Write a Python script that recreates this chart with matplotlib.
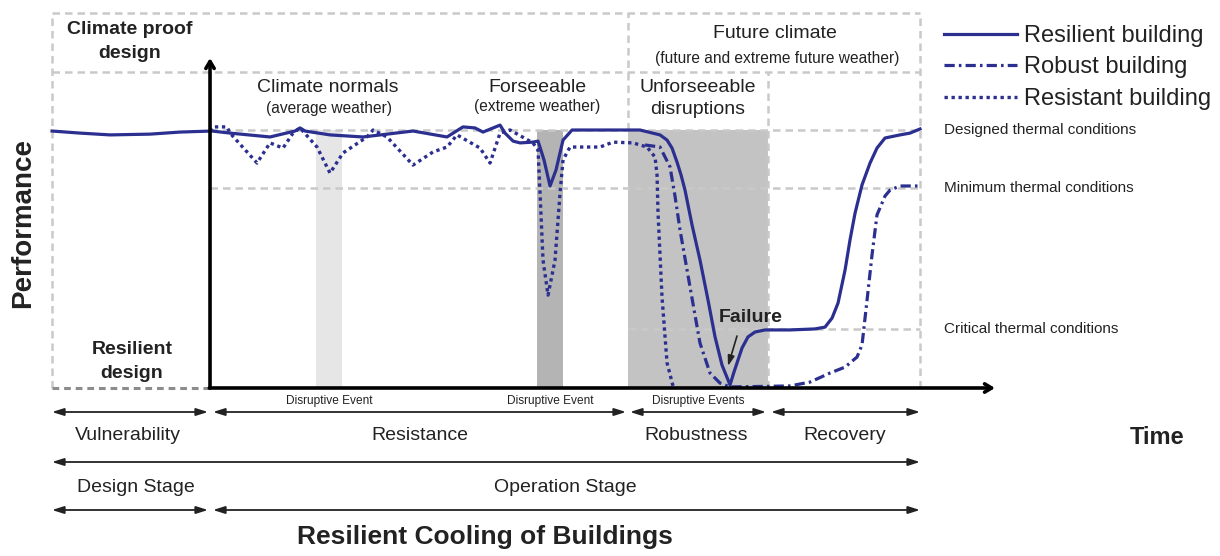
import matplotlib.pyplot as plt

plt.rcParams['font.family'] = ['Liberation Sans', 'DejaVu Sans']

# time (t=0 at the performance axis, t=100 at end of recovery)
# performance (100 = designed thermal conditions, 0 = failure)
resilient_t = [-22.25, -18.31, -14.08, -8.45, -4.23, 0.28, 2.82, 8.45, 11.97, 12.68, 13.38, 16.9,
               21.55, 28.59, 33.38, 35.63, 37.32, 38.45, 40.85, 41.55, 42.68, 43.66, 45.49, 46.2,
               47.04, 47.89, 48.73, 49.72, 50.99, 54.93, 60.56, 63.38, 64.37, 65.07, 65.77, 66.34,
               66.9, 67.89, 69.01, 70.14, 71.13, 72.11, 73.24, 73.8, 74.37, 74.93, 75.77, 76.76,
               78.17, 81.69, 85.21, 86.62, 87.61, 88.45, 89.44, 90.14, 90.85, 91.83, 92.96, 93.94,
               95.07, 97.18, 98.59, 100]
resilient_p = [99.6, 98.8, 98.1, 98.4, 99.2, 99.6, 98.8, 97.3, 99.6, 100.8, 99.6, 98.1,
               97.3, 99.6, 97.3, 101.2, 100.8, 99.2, 101.9, 98.8, 95.7, 95.0, 95.3, 95.7,
               88.4, 78.3, 84.5, 96.1, 100, 100, 100, 98.1, 96.1, 93.0, 87.6, 82.6,
               76.7, 63.2, 49.6, 34.1, 19.8, 8.9, 1.2, 6.2, 10.9, 15.5, 19.8, 21.7,
               22.5, 22.5, 22.9, 23.6, 27.1, 32.9, 45.7, 57.4, 67.8, 78.7, 87.2, 93.0,
               96.9, 98.1, 98.8, 100.4]

robust_t = [61.27, 63.38, 64.79, 65.49, 66.2, 67.61, 69.01, 70.42, 71.83, 73.24, 81.69, 84.51,
            87.32, 89.44, 91.13, 91.83, 92.54, 93.24, 93.94, 95.07, 95.77, 97.18, 100]
robust_p = [94.2, 93.4, 85.7, 74.4, 61.2, 39.1, 17.4, 5.8, 1.9, 0.4, 0.8, 2.3,
            5.8, 8.1, 12.0, 16.7, 34.1, 51.6, 67.1, 74.4, 76.7, 78.3, 78.3]

resistant_t = [0, 0.42, 2.39, 2.82, 6.62, 8.45, 10.28, 11.69, 12.68, 15.07, 16.9, 18.73, 22.11,
               22.96, 24.93, 28.59, 31.41, 33.38, 34.79, 38.03, 39.44, 40.85, 42.25, 45.49, 46.2,
               46.48, 46.9, 47.61, 48.59, 49.3, 49.72, 50.7, 54.93, 56.76, 59.58, 61.55, 62.68,
               62.96, 63.1, 63.66, 64.37, 65.21]
resistant_p = [99.6, 101.2, 101.2, 98.8, 87.2, 95.0, 93.0, 98.8, 100.8, 93.4, 83.3, 91.1, 97.3,
               100, 97.3, 86.4, 91.5, 93.4, 98.1, 93.0, 87.2, 98.8, 100, 95.0, 92.2,
               75.6, 49.6, 36.0, 49.6, 75.6, 88.4, 93.4, 93.4, 95.3, 95.0, 93.4, 89.5,
               82.6, 67.8, 35.3, 9.7, 0.8]

# disruptive events (start, end, colour)
event_start = [14.93, 46.06, 58.87]
event_end = [18.59, 49.72, 78.59]
event_color = ['#e6e6e6', '#b4b4b4', '#c3c3c3']

# thermal condition levels
levels = [100, 77.5, 22.9]
level_start = [0, 0, 58.87]
level_names = ['Designed thermal conditions', 'Minimum thermal conditions', 'Critical thermal conditions']

navy = '#2b2f8f'
grid = '#c9c9c9'
txt = '#222222'

fig = plt.figure(figsize=(12.2, 5.56), dpi=100)
ax = fig.add_axes([0, 0, 1, 1])
ax.set_xlim(-29.58, 142.25)
ax.set_ylim(-65.12, 150.39)
ax.axis('off')

for s, e, c in zip(event_start, event_end, event_color):
    ax.fill_between([s, e], 0, 100, color=c, lw=0, zorder=1)

gkw = dict(color=grid, lw=1.8, ls=(0, (3, 2)), zorder=2)
for lv, st in zip(levels, level_start):
    ax.plot([st, 100], [lv, lv], **gkw)
ax.plot([-22.25, 100], [145.3, 145.3], **gkw)
ax.plot([-22.25, 100], [122.5, 122.5], **gkw)
ax.plot([-22.25, -22.25], [0, 145.3], **gkw)
ax.plot([100, 100], [0, 145.3], **gkw)
ax.plot([58.87, 58.87], [100, 145.3], **gkw)
ax.plot([78.59, 78.59], [0, 122.5], **gkw)
ax.plot([-22.25, 0], [0, 0], color='#8c8c8c', lw=2.2, ls=(0, (2.2, 1.6)), zorder=2)

l1, = ax.plot(resilient_t, resilient_p, color=navy, lw=2.3, zorder=5,
              solid_joinstyle='round', label='Resilient building')
l2, = ax.plot(robust_t, robust_p, color=navy, lw=2.3, zorder=4,
              ls=(0, (3.2, 1.3, 0.8, 1.3)), label='Robust building')
l3, = ax.plot(resistant_t, resistant_p, color=navy, lw=2.4, zorder=4,
              ls=(0, (1, 1.1)), label='Resistant building')

# axes arrows
ax.annotate('', xy=(0, 127.9), xytext=(0, 0),
            arrowprops=dict(arrowstyle='->,head_length=0.5,head_width=0.3', color='black',
                            lw=2.6, shrinkA=0, shrinkB=0), zorder=6)
ax.annotate('', xy=(110.56, 0), xytext=(-0.1, 0),
            arrowprops=dict(arrowstyle='->,head_length=0.5,head_width=0.3', color='black',
                            lw=2.6, shrinkA=0, shrinkB=0), zorder=6)

for lv, name in zip(levels, level_names):
    ax.text(103.4, lv, name, fontsize=11, color=txt, va='center', ha='left')

fig.legend(handles=[l1, l2, l3], loc='upper left', bbox_to_anchor=(944 / 1220, 1 - 25 / 556),
           frameon=False, fontsize=17, handlelength=3.1, handletextpad=0.3,
           labelspacing=0.4, borderpad=0, borderaxespad=0, labelcolor=txt)

# layout overlay in pixel units
ov = fig.add_axes([0, 0, 1, 1], zorder=3)
ov.set_xlim(0, 1220)
ov.set_ylim(556, 0)
ov.axis('off')
ov.patch.set_alpha(0)


def t(x, y, s, size=14, bold=False, **kw):
    ov.text(x, y, s, fontsize=size, fontweight='bold' if bold else 'normal',
            color=txt, ha='center', va='center', **kw)


t(130, 30, 'Climate proof', bold=True)
t(130, 53, 'design', bold=True)
t(132, 350, 'Resilient', bold=True)
t(132, 373, 'design', bold=True)
t(328, 87, 'Climate normals')
t(329, 108, '(average weather)', size=11.2)
t(537, 87, 'Forseeable')
t(537, 107, '(extreme weather)', size=11.2)
t(698, 87, 'Unforseeable')
t(698, 110, 'disruptions')
t(775, 33, 'Future climate')
t(777, 58, '(future and extreme future weather)', size=11.2)
t(751, 317, 'Failure', bold=True)
ov.annotate('', xy=(728, 366), xytext=(737, 336),
            arrowprops=dict(arrowstyle='-|>,head_length=0.6,head_width=0.2', color=txt, lw=1.2,
                            shrinkA=0, shrinkB=0))

t(23, 223, 'Performance', size=20, bold=True, rotation=90)
t(1157, 437, 'Time', size=17, bold=True)
t(485, 537, 'Resilient Cooling of Buildings', size=19, bold=True)

akw = dict(arrowstyle='<|-|>,head_length=0.7,head_width=0.22', color=txt, lw=1.3,
           shrinkA=0, shrinkB=0, mutation_scale=10)
rows = [(52, 208, 412), (213, 626, 412), (630, 766, 412), (771, 920, 412),
        (52, 920, 462), (52, 208, 510), (213, 920, 510)]
for x0, x1, y in rows:
    ov.annotate('', xy=(x1, y), xytext=(x0, y), arrowprops=akw)

t(329, 401, 'Disruptive Event', size=8.6)
t(550, 401, 'Disruptive Event', size=8.6)
t(698, 401, 'Disruptive Events', size=8.6)
t(128, 435, 'Vulnerability')
t(420, 435, 'Resistance')
t(696, 435, 'Robustness')
t(845, 435, 'Recovery')
t(136, 487, 'Design Stage')
t(565, 487, 'Operation Stage')

fig.savefig('out.png', dpi=100)
